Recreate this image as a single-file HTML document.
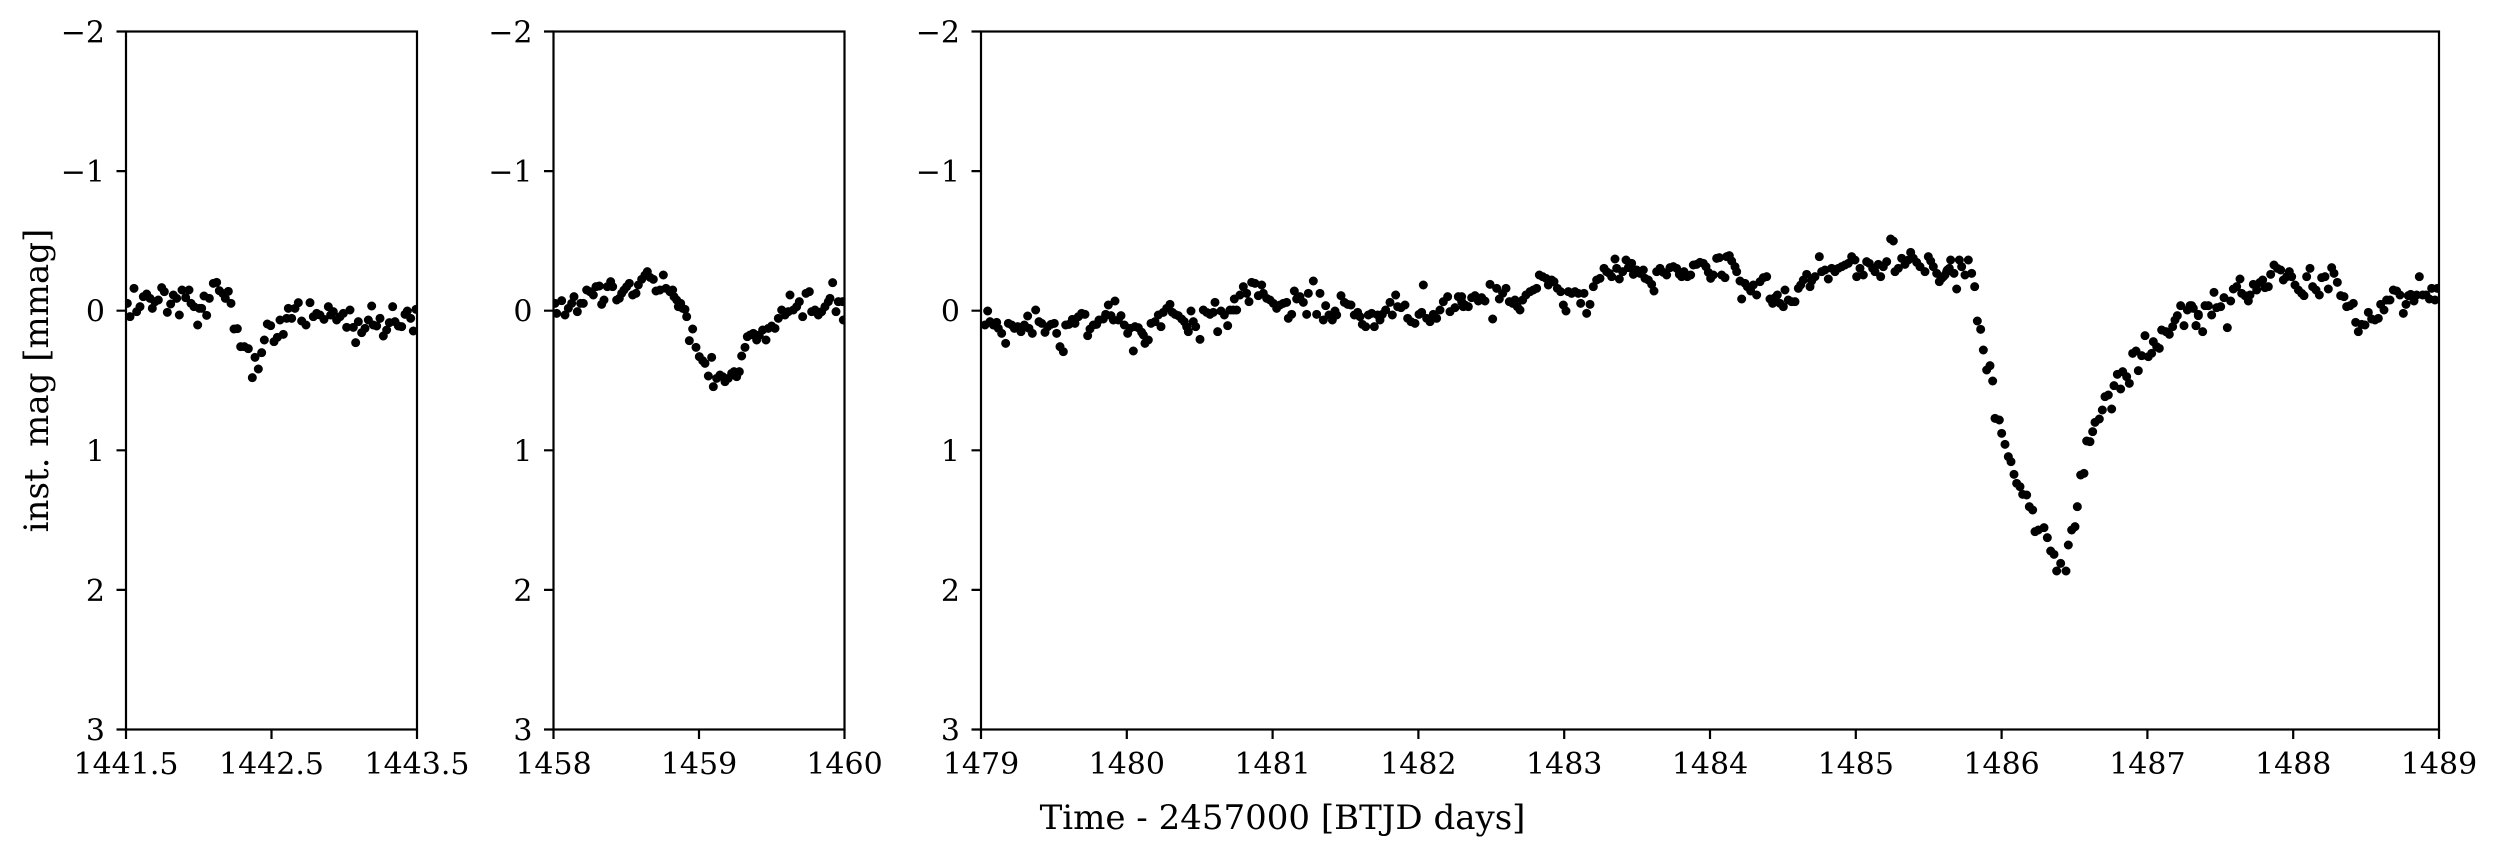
<!DOCTYPE html>
<html><head><meta charset="utf-8"><style>
html,body{margin:0;padding:0;background:#fff;}
svg{display:block;}
text{font-family:"DejaVu Serif","Liberation Serif",serif;fill:#000;}
.t{font-size:30px;}
.l{font-size:34px;}
.d{fill:none;stroke:#000;stroke-width:27;stroke-linecap:round;}
</style></head><body>
<svg width="2500" height="856" viewBox="0 0 2500 856" xmlns="http://www.w3.org/2000/svg">
<defs>
<clipPath id="c1"><rect x="126" y="31.5" width="291" height="698"/></clipPath>
<clipPath id="c2"><rect x="553.5" y="31.5" width="291" height="698"/></clipPath>
<clipPath id="c3"><rect x="981" y="31.5" width="1458" height="698"/></clipPath>
</defs>
<rect width="2500" height="856" fill="#fff"/>

<!-- Panel 1 data -->
<g clip-path="url(#c1)"><g transform="translate(120,250) scale(0.33333)">
<path class="d" d="M22 160h0M30 200h0M42 115h0M50 185h0M60 170h0M70 140h0M80 132h0M90 145h0M97 175h0M105 155h0M115 150h0M125 113h0M133 125h0M142 187h0M152 162h0M160 135h0M170 145h0M178 195h0M186 120h0M197 143h0M207 120h0M213 160h0M222 170h0M233 225h0M238 175h0M245 175h0M252 138h0M260 196h0M268 145h0M280 100h0M290 97h0M298 122h0M308 130h0M316 145h0M325 124h0M333 160h0M342 237h0M352 236h0M362 290h0M373 290h0M385 296h0M397 383h0M405 322h0M415 357h0M425 308h0M433 270h0M442 222h0M452 227h0M462 275h0M472 262h0M480 210h0M490 253h0M500 205h0M505 175h0M515 205h0M525 175h0M535 158h0M545 213h0M558 225h0M570 158h0M580 200h0M590 190h0M600 195h0M612 208h0M625 170h0M632 195h0M640 185h0M650 210h0M660 200h0M670 190h0M680 232h0M690 180h0M700 232h0M707 278h0M715 215h0M725 248h0M735 235h0M745 210h0M755 168h0M760 225h0M770 228h0M780 205h0M790 258h0M800 240h0M808 218h0M818 170h0M825 215h0M835 228h0M845 230h0M855 193h0M862 183h0M872 205h0M880 243h0M888 178h0"/>
</g></g>

<!-- Panel 2 data -->
<g clip-path="url(#c2)"><g transform="translate(550,250) scale(0.33333)">
<path class="d" d="M15 160h0M20 190h0M35 152h0M45 195h0M55 175h0M65 160h0M72 140h0M82 185h0M92 160h0M100 160h0M110 120h0M120 125h0M130 135h0M138 110h0M148 108h0M155 163h0M162 150h0M172 110h0M182 95h0M188 110h0M200 150h0M208 145h0M215 130h0M222 120h0M230 110h0M238 100h0M248 135h0M258 130h0M265 105h0M275 88h0M285 75h0M292 65h0M300 82h0M310 88h0M318 123h0M330 120h0M340 75h0M348 115h0M360 125h0M368 120h0M372 140h0M380 150h0M385 170h0M392 160h0M398 175h0M405 178h0M410 200h0M428 237h0M418 272h0M438 292h0M448 320h0M458 332h0M465 340h0M475 378h0M485 322h0M490 410h0M500 385h0M510 375h0M518 380h0M525 395h0M535 385h0M545 370h0M552 365h0M560 380h0M568 365h0M575 318h0M585 292h0M592 260h0M600 255h0M610 250h0M620 270h0M628 255h0M638 240h0M648 270h0M655 235h0M665 228h0M675 235h0M685 205h0M695 180h0M705 195h0M715 185h0M720 135h0M730 180h0M740 170h0M748 155h0M758 200h0M768 130h0M778 125h0M785 185h0M795 180h0M805 195h0M815 185h0M825 170h0M835 155h0M840 145h0M848 98h0M858 185h0M865 155h0M878 155h0M880 210h0"/>
</g></g>

<!-- Panel 3 data -->
<g clip-path="url(#c3)">
<g transform="translate(975,225) scale(0.33333)">
<path class="d" d="M30 300h0M38 258h0M45 290h0M55 300h0M65 292h0M70 310h0M80 325h0M92 355h0M100 295h0M110 300h0M118 310h0M128 305h0M138 320h0M148 300h0M158 273h0M162 310h0M172 325h0M182 255h0M192 290h0M200 295h0M210 322h0M218 305h0M228 298h0M238 295h0M245 325h0M255 365h0M265 380h0M272 300h0M282 298h0M292 283h0M300 295h0M310 275h0M320 265h0M330 268h0M338 332h0M345 312h0M355 300h0M365 298h0M372 285h0M385 282h0M392 268h0M400 240h0M408 272h0M420 228h0M415 285h0M430 285h0M438 272h0M448 300h0M458 325h0M465 310h0M475 378h0M480 305h0M490 308h0M500 322h0M505 330h0M510 355h0M520 345h0M528 295h0M540 290h0M550 270h0M558 305h0M565 262h0M575 250h0M585 238h0M592 262h0M600 268h0M610 272h0M620 282h0M628 290h0M635 305h0M640 320h0M648 258h0M655 290h0M662 305h0M675 343h0M685 255h0M695 262h0M705 268h0M715 262h0M720 232h0M728 320h0M738 258h0M748 270h0M758 302h0M765 255h0M775 255h0M785 255h0M778 222h0M795 210h0M805 185h0M815 205h0M822 230h0M830 172h0M840 175h0M850 212h0M860 180h0M865 205h0M875 220h0M885 225h0M895 235h0M905 250h0M915 240h0M925 235h0M935 232h0M940 280h0M950 268h0M958 198h0M965 222h0M975 215h0M985 232h0M995 268h0M1000 205h0M1015 168h0M1025 268h0M1035 205h0M1045 285h0M1052 242h0M1062 270h0M1072 285h0M1080 258h0M1085 270h0M1098 212h0M1108 232h0M1118 238h0M1128 240h0M1138 270h0M1148 262h0M1155 275h0M1162 298h0M1172 305h0M1180 270h0M1190 265h0M1198 305h0M1208 270h0M1215 285h0M1222 268h0M1232 255h0M1245 232h0M1252 270h0M1262 210h0M1268 245h0M1278 248h0M1290 240h0M1298 280h0M1308 290h0M1320 295h0M1332 268h0M1345 180h0M1340 262h0M1355 280h0M1365 290h0M1375 268h0M1385 280h0M1395 255h0M1405 230h0M1418 215h0M1425 260h0M1440 248h0M1450 215h0M1460 230h0M1465 245h0"/>
</g>
<g transform="translate(1460,225) scale(0.33333)">
<path class="d" d="M5 215h0M15 240h0M25 245h0M35 218h0M45 212h0M55 228h0M65 218h0M75 228h0M90 178h0M98 282h0M110 190h0M118 222h0M128 205h0M138 190h0M148 230h0M158 235h0M165 225h0M172 245h0M180 255h0M188 225h0M198 210h0M210 200h0M220 195h0M230 190h0M238 150h0M248 155h0M258 160h0M265 180h0M275 165h0M282 170h0M292 190h0M302 200h0M310 240h0M318 258h0M325 200h0M335 205h0M345 200h0M355 205h0M362 235h0M372 205h0M380 265h0M390 238h0M400 185h0M410 165h0M420 160h0M432 130h0M440 140h0M448 145h0M455 155h0M465 102h0M470 130h0M478 162h0M488 140h0M498 105h0M505 128h0M515 115h0M520 148h0M530 135h0M540 145h0M550 135h0M555 160h0M565 165h0M575 178h0M582 198h0M590 140h0M600 130h0M610 142h0M620 150h0M630 128h0M640 125h0M650 130h0M658 148h0M665 155h0M672 140h0M682 155h0M692 150h0M700 120h0M710 118h0M720 112h0M730 115h0M738 125h0M745 142h0M752 160h0M760 150h0M770 100h0M778 98h0M785 150h0M795 158h0M800 95h0M808 92h0M815 108h0M825 125h0M830 140h0M840 168h0M845 222h0M855 175h0M862 185h0M872 198h0M880 180h0M890 210h0M900 170h0M910 158h0M920 155h0M930 222h0M938 235h0M945 218h0M952 210h0M960 235h0M970 245h0M975 195h0M985 225h0M995 230h0M1005 230h0M1015 190h0M1022 180h0M1030 165h0M1040 148h0M1050 185h0M1055 168h0M1065 155h0M1078 95h0M1085 140h0M1095 135h0M1105 162h0M1115 130h0M1125 140h0M1135 130h0M1145 125h0M1155 120h0M1165 115h0M1175 95h0M1185 105h0M1190 155h0M1200 130h0M1210 150h0M1220 110h0M1228 115h0M1238 130h0M1245 140h0M1255 118h0M1262 155h0M1270 125h0M1280 110h0M1292 42h0M1300 48h0M1305 140h0M1315 130h0M1325 100h0M1335 118h0M1345 105h0M1352 82h0M1360 100h0M1370 112h0M1380 125h0M1395 140h0M1405 95h0M1412 108h0M1420 125h0M1430 145h0M1438 170h0M1450 155h0M1460 140h0M1468 130h0"/>
</g>
<g transform="translate(1940,225) scale(0.33333)">
<path class="d" d="M5 160h0M15 150h0M22 135h0M32 105h0M42 145h0M50 192h0M58 105h0M65 125h0M75 150h0M85 105h0M95 145h0M104 185h0M112 288h0M122 313h0M130 375h0M140 435h0M150 422h0M158 468h0M165 580h0M178 585h0M185 625h0M195 658h0M205 695h0M213 710h0M222 748h0M230 775h0M240 785h0M248 808h0M260 810h0M268 845h0M278 855h0M285 920h0M295 915h0M312 908h0M322 938h0M332 978h0M342 988h0M350 1038h0M362 1015h0M378 1038h0M385 960h0M395 915h0M405 905h0M412 845h0M422 750h0M432 745h0M440 648h0M450 650h0M458 620h0M465 592h0M478 582h0M487 555h0M495 515h0M505 510h0M515 552h0M522 482h0M532 448h0M542 492h0M548 440h0M560 455h0M568 475h0M578 385h0M588 378h0M595 437h0M605 392h0M615 332h0M625 395h0M635 385h0M640 350h0M650 365h0M658 370h0M665 315h0M678 320h0M688 328h0M698 305h0M705 285h0M712 272h0M722 242h0M732 302h0M742 255h0M750 242h0M760 250h0M768 302h0M775 272h0"/>
</g>
<g transform="translate(2190,225) scale(0.33333)">
<path class="d" d="M5 242h0M18 302h0M25 268h0M38 320h0M45 242h0M55 242h0M65 270h0M72 202h0M80 248h0M92 245h0M102 218h0M112 308h0M122 228h0M130 192h0M140 185h0M150 162h0M155 205h0M165 212h0M175 228h0M180 210h0M190 178h0M200 195h0M210 172h0M218 165h0M225 188h0M235 185h0M242 148h0M252 120h0M262 130h0M272 135h0M280 165h0M290 155h0M298 140h0M305 155h0M315 180h0M325 195h0M335 205h0M342 212h0M350 155h0M360 130h0M368 185h0M378 195h0M388 210h0M395 158h0M405 155h0M415 192h0M425 128h0M432 145h0M442 172h0M452 212h0M462 215h0M470 245h0M480 242h0M490 235h0M497 292h0M505 320h0M515 298h0M525 300h0M535 262h0M545 282h0M555 285h0M565 280h0M572 238h0M582 255h0M590 225h0M600 225h0M610 195h0M620 198h0M630 210h0M640 265h0M648 238h0M655 212h0M662 208h0M672 228h0M680 210h0M688 155h0M698 210h0M708 210h0M718 222h0M725 190h0M735 225h0M742 190h0"/>
</g>
</g>

<!-- Axes frames -->
<g fill="none" stroke="#000" stroke-width="2.2">
<rect x="126" y="31.5" width="291" height="698"/>
<rect x="553.5" y="31.5" width="291" height="698"/>
<rect x="981" y="31.5" width="1458" height="698"/>
<path d="M116.5 31.5H126M116.5 171.1H126M116.5 310.7H126M116.5 450.3H126M116.5 589.9H126M116.5 729.5H126"/>
<path d="M544 31.5H553.5M544 171.1H553.5M544 310.7H553.5M544 450.3H553.5M544 589.9H553.5M544 729.5H553.5"/>
<path d="M971.5 31.5H981M971.5 171.1H981M971.5 310.7H981M971.5 450.3H981M971.5 589.9H981M971.5 729.5H981"/>
<path d="M126 729.5V739M271.5 729.5V739M417 729.5V739"/>
<path d="M553.5 729.5V739M699 729.5V739M844.5 729.5V739"/>
<path d="M981 729.5V739M1126.8 729.5V739M1272.6 729.5V739M1418.4 729.5V739M1564.2 729.5V739M1710 729.5V739M1855.8 729.5V739M2001.6 729.5V739M2147.4 729.5V739M2293.2 729.5V739M2439 729.5V739"/>
</g>

<!-- y tick labels -->
<g class="t" text-anchor="end">
<text x="105" y="42.5">−2</text><text x="105" y="182.1">−1</text><text x="105" y="321.7">0</text><text x="105" y="461.3">1</text><text x="105" y="600.9">2</text><text x="105" y="740.5">3</text>
<text x="532.5" y="42.5">−2</text><text x="532.5" y="182.1">−1</text><text x="532.5" y="321.7">0</text><text x="532.5" y="461.3">1</text><text x="532.5" y="600.9">2</text><text x="532.5" y="740.5">3</text>
<text x="960" y="42.5">−2</text><text x="960" y="182.1">−1</text><text x="960" y="321.7">0</text><text x="960" y="461.3">1</text><text x="960" y="600.9">2</text><text x="960" y="740.5">3</text>
</g>

<!-- x tick labels -->
<g class="t" text-anchor="middle">
<text x="126" y="774">1441.5</text><text x="271.5" y="774">1442.5</text><text x="417" y="774">1443.5</text>
<text x="553.5" y="774">1458</text><text x="699" y="774">1459</text><text x="844.5" y="774">1460</text>
<text x="981" y="774">1479</text><text x="1126.8" y="774">1480</text><text x="1272.6" y="774">1481</text><text x="1418.4" y="774">1482</text><text x="1564.2" y="774">1483</text><text x="1710" y="774">1484</text><text x="1855.8" y="774">1485</text><text x="2001.6" y="774">1486</text><text x="2147.4" y="774">1487</text><text x="2293.2" y="774">1488</text><text x="2439" y="774">1489</text>
</g>

<!-- axis labels -->
<text class="l" x="1282.5" y="829" text-anchor="middle">Time - 2457000 [BTJD days]</text>
<text class="l" x="0" y="0" text-anchor="middle" transform="translate(48,380.5) rotate(-90)">inst. mag [mmag]</text>
</svg>
</body></html>
